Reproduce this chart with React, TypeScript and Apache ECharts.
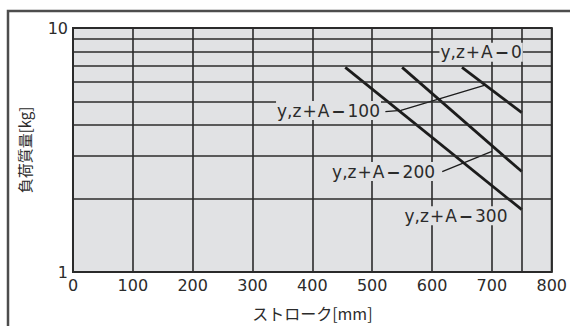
import { useEffect, useRef } from 'react';
import * as echarts from 'echarts';

// Axes
const strokeMin = 0;
const strokeMax = 800;
const strokeStep = 100;
const loadMin = 1;
const loadMax = 10;
// extra grid lines
const minorLoadLines = [2, 3, 4, 5, 6, 7, 8, 9];
const extraStrokeLines = [750];

// Load curves [stroke mm, load kg]
const curveLong = [[455, 6.9], [750, 1.8]];
const curveMid = [[550, 6.9], [750, 2.58]];
const curveShort = [[650, 6.9], [750, 4.5]];

// Leader lines
const leader100 = [[522, 4.54], [548, 4.6], [690, 5.85]];
const leader200 = [[617, 2.58], [700, 3.12]];

// Curve labels: [stroke, load, A value]
const labelPoints = [
  [682, 7.95, '0'],
  [427, 4.59, '100'],
  [519, 2.58, '200'],
  [640, 1.7, '300'],
];

const xName = 'ストローク[mm]';
const yName = '負荷質量[kg]';

const PLOT_BG = '#e1e2e4';
const INK = '#2b2b2b';
const NUM_FONT = 'DejaVu Sans';
const JP_FONT = '"Noto Sans CJK JP"';

export default function App() {
  const ref = useRef<HTMLDivElement>(null);
  useEffect(() => {
    const chart = echarts.init(ref.current!, null, { renderer: 'svg' });
    const curveStyle = { color: '#1c1c1c', width: 2.8 };
    const leaderStyle = { color: '#1c1c1c', width: 1.3 };
    chart.setOption({
      animation: false,
      backgroundColor: '#ffffff',
      grid: {
        left: 73,
        top: 28,
        width: 480,
        height: 247,
        show: true,
        backgroundColor: PLOT_BG,
        borderColor: INK,
        borderWidth: 2,
      },
      xAxis: {
        type: 'value',
        min: strokeMin,
        max: strokeMax,
        interval: strokeStep,
        name: xName,
        nameLocation: 'middle',
        nameGap: 33,
        nameTextStyle: { fontFamily: JP_FONT, fontSize: 16, color: INK },
        axisLine: { show: false },
        axisTick: { show: false },
        axisLabel: { fontFamily: NUM_FONT, fontSize: 16, color: INK, margin: 5 },
        splitLine: { show: true, lineStyle: { color: INK, width: 1.6 } },
      },
      yAxis: {
        type: 'log',
        logBase: 10,
        min: loadMin,
        max: loadMax,
        name: yName,
        nameLocation: 'middle',
        nameGap: 41,
        nameTextStyle: { fontFamily: JP_FONT, fontSize: 15, color: INK },
        axisLine: { show: false },
        axisTick: { show: false },
        axisLabel: { fontFamily: NUM_FONT, fontSize: 16, color: INK, margin: 5 },
        splitLine: { show: true, lineStyle: { color: INK, width: 1.6 } },
      },
      graphic: [
        {
          type: 'rect',
          shape: { x: 8, y: 11, width: 700, height: 500 },
          style: { fill: 'none', stroke: '#4d4d4d', lineWidth: 2.5 },
          silent: true,
          z: 0,
        },
      ],
      series: [
        {
          type: 'line',
          name: 'grid',
          data: [[strokeMin, loadMin]],
          symbol: 'none',
          lineStyle: { opacity: 0 },
          silent: true,
          z: 1,
          markLine: {
            silent: true,
            symbol: ['none', 'none'],
            label: { show: false },
            lineStyle: { color: INK, width: 1.6, type: 'solid' },
            data: [
              ...minorLoadLines.map((v) => ({ yAxis: v })),
              ...extraStrokeLines.map((v) => ({ xAxis: v })),
            ],
          },
        },
        { type: 'line', data: curveLong, symbol: 'none', lineStyle: curveStyle, z: 3 },
        { type: 'line', data: curveMid, symbol: 'none', lineStyle: curveStyle, z: 3 },
        { type: 'line', data: curveShort, symbol: 'none', lineStyle: curveStyle, z: 3 },
        { type: 'line', data: leader100, symbol: 'none', lineStyle: leaderStyle, z: 3 },
        { type: 'line', data: leader200, symbol: 'none', lineStyle: leaderStyle, z: 3 },
        {
          type: 'scatter',
          data: labelPoints,
          symbolSize: 2,
          itemStyle: { color: 'rgba(0,0,0,0)' },
          z: 5,
          label: {
            show: true,
            position: 'inside',
            opacity: 1,
            formatter: (p: any) => `{a|y,z}{c|+}{a|A}{b|−}{a|${p.data[2]}}`,
            backgroundColor: PLOT_BG,
            padding: [1, 1],
            rich: {
              a: { fontFamily: NUM_FONT, fontSize: 17, color: INK },
              c: { fontFamily: NUM_FONT, fontSize: 17, color: INK, padding: [0, 1] },
              b: { fontFamily: NUM_FONT, fontSize: 17, fontWeight: 'bold', color: INK, padding: [0, 2] },
            },
          },
        },
      ],
    });
    return () => chart.dispose();
  }, []);
  return (
    <div
      ref={ref}
      style={{ position: 'fixed', left: 0, top: 0, width: 570, height: 326, background: '#fff' }}
    />
  );
}
